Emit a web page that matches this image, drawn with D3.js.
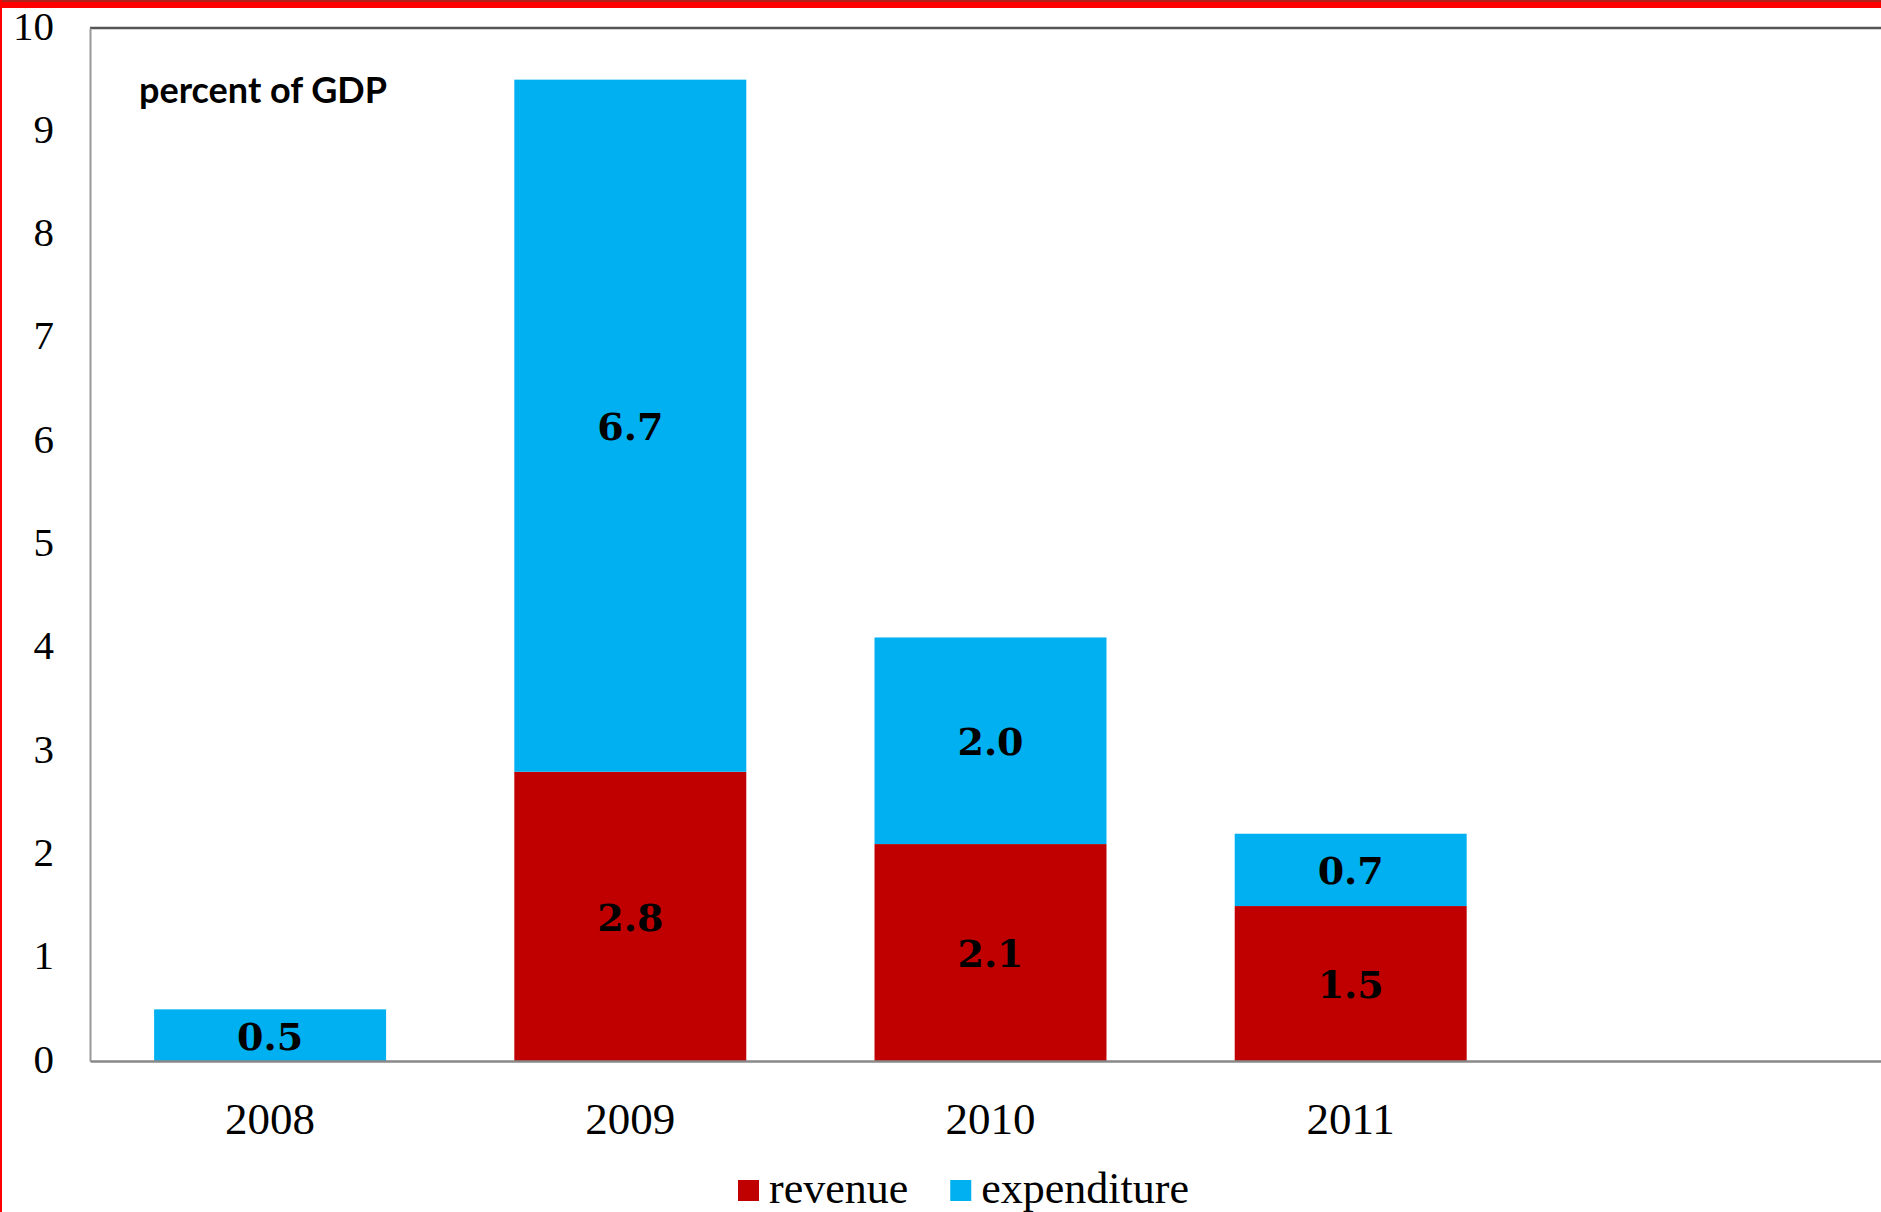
<!DOCTYPE html>
<html>
<head>
<meta charset="utf-8">
<script src="https://cdn.jsdelivr.net/npm/d3@7"></script>
<style>
  html, body { margin: 0; padding: 0; background: #fff; }
</style>
</head>
<body>
<div id="chart"></div>
<script>
// stacked bars: fiscal measures, percent of GDP

const years       = ["2008", "2009", "2010", "2011"];
const revenue     = [0, 2.8, 2.1, 1.5];
const expenditure = [0.5, 6.7, 2.0, 0.7];
const seriesNames = ["revenue", "expenditure"];
const seriesColors = ["#c00000", "#00b0f0"];
const yTicks      = [0, 1, 2, 3, 4, 5, 6, 7, 8, 9, 10];
const unitLabel   = "percent of GDP";

const W = 1881, H = 1212, M = { top: 28, right: -10, bottom: 151, left: 90 };
const serif = "'Liberation Serif', 'Times New Roman', serif";

const svg = d3.select("#chart").append("svg").attr("width", W).attr("height", H);

// frame (only top + left visible)
svg.append("rect").attr("x", 0).attr("y", 0).attr("width", W).attr("height", 8).attr("fill", "#ff0000");
svg.append("rect").attr("x", 0).attr("y", 0).attr("width", W).attr("height", 2).attr("fill", "#b0201c");
svg.append("rect").attr("x", 0).attr("y", 0).attr("width", 2).attr("height", H).attr("fill", "#ff0000");

const rows = years.map((yr, i) => ({ year: yr, revenue: revenue[i], expenditure: expenditure[i] }));
const stacked = d3.stack().keys(seriesNames)(rows);

// 5 slots, the last one stays empty
const x = d3.scaleBand()
  .domain([...years, ""])
  .range([M.left, W - M.right])
  .paddingInner(0.356).paddingOuter(0.178);

const y = d3.scaleLinear().domain([0, 10]).range([H - M.bottom, M.top]);

// top border line of plot area
svg.append("line")
  .attr("x1", M.left).attr("x2", W).attr("y1", M.top).attr("y2", M.top)
  .attr("stroke", "#555").attr("stroke-width", 2.5);

// bars
const color = d3.scaleOrdinal().domain(seriesNames).range(seriesColors);
const gBars = svg.append("g");
stacked.forEach(s => {
  gBars.selectAll(null).data(s.filter(d => d[1] - d[0] > 0)).enter().append("rect")
    .attr("x", d => x(d.data.year))
    .attr("width", x.bandwidth())
    .attr("y", d => y(d[1]))
    .attr("height", d => y(d[0]) - y(d[1]))
    .attr("fill", color(s.key));
});

// y axis
const yAxis = svg.append("g").attr("transform", `translate(${M.left},0)`)
  .call(d3.axisLeft(y).tickValues(yTicks).tickSize(0).tickPadding(36).tickSizeOuter(0));
yAxis.select(".domain").attr("stroke", "#999").attr("stroke-width", 2);
yAxis.selectAll("text").attr("dy", "0.27em")
  .style("font-family", serif).style("font-size", "41px").attr("fill", "#000");

// x axis
const xAxis = svg.append("g").attr("transform", `translate(0,${H - M.bottom})`)
  .call(d3.axisBottom(x).tickSize(0).tickPadding(41).tickSizeOuter(0));
xAxis.select(".domain").attr("stroke", "#888").attr("stroke-width", 2.5);
xAxis.selectAll(".tick").filter(d => d === "").remove();
xAxis.selectAll("text").style("font-family", serif).style("font-size", "45px").attr("fill", "#000");

// value labels in the middle of each segment
const gLbl = svg.append("g");
stacked.forEach(s => {
  gLbl.selectAll(null).data(s.filter(d => d[1] - d[0] > 0)).enter().append("text")
    .attr("x", d => x(d.data.year) + x.bandwidth() / 2)
    .attr("y", d => (y(d[0]) + y(d[1])) / 2)
    .attr("dy", "0.38em")
    .attr("text-anchor", "middle")
    .style("font-family", "'DejaVu Serif', serif")
    .style("font-weight", "700")
    .style("font-size", "38px")
    .text(d => d3.format(".1f")(d[1] - d[0]));
});

// unit label
svg.append("text")
  .attr("x", 139).attr("y", 103)
  .style("font-family", "Lato, 'Open Sans', sans-serif")
  .style("font-weight", "700").style("font-size", "36px")
  .text(unitLabel);

// legend
const leg = svg.append("g").attr("transform", "translate(738,1180)");
let lx = 0;
seriesNames.forEach((name, i) => {
  leg.append("rect").attr("x", lx).attr("y", 0).attr("width", 21).attr("height", 21)
    .attr("fill", seriesColors[i]);
  const t = leg.append("text").attr("x", lx + 31).attr("y", 23)
    .style("font-family", serif).style("font-size", "44px")
    .text(name);
  lx += 31 + t.node().getComputedTextLength() + 42;
});
</script>
</body>
</html>
